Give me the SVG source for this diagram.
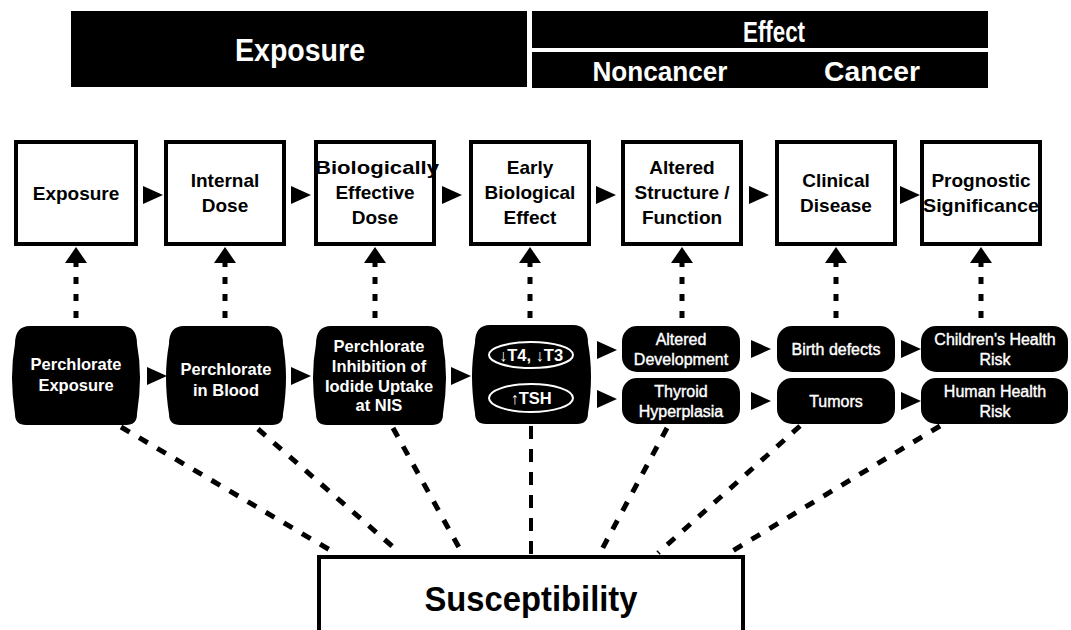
<svg xmlns="http://www.w3.org/2000/svg" xmlns:xlink="http://www.w3.org/1999/xlink" width="1071" height="630" viewBox="0 0 1071 630">
<style>
.ban{font-family:"Liberation Sans",Arial,sans-serif;font-weight:bold;fill:#fff;text-anchor:middle}
.box{fill:#fff;stroke:#000;stroke-width:4}
.bt{font-family:"Liberation Sans",Arial,sans-serif;font-weight:bold;font-size:19px;fill:#000;text-anchor:middle}
.blk{fill:#000}
.wt{font-family:"Liberation Sans",Arial,sans-serif;font-weight:bold;font-size:16.5px;fill:#fff;text-anchor:middle}
.st{font-family:"Liberation Sans",Arial,sans-serif;font-size:16px;fill:#fff;text-anchor:middle;stroke:#fff;stroke-width:0.4}
.dot{stroke:#000;stroke-width:5;stroke-dasharray:7 10;fill:none}
.dash{stroke:#000;stroke-width:5;stroke-dasharray:10 11;fill:none}
.vdash{stroke:#000;stroke-width:4;stroke-dasharray:13 10;fill:none}
.ell{fill:none;stroke:#fff;stroke-width:2}
</style>
<defs>
<polygon id="ar" points="0,-9 20,0 0,9" fill="#000"/>
<polygon id="au" points="-11,0 0,-16 11,0" fill="#000"/>
</defs>
<rect width="1071" height="630" fill="#fff"/>

<g id="banner">
<rect x="71" y="11" width="456" height="76" fill="#000"/>
<text class="ban" x="300" y="61" font-size="32" textLength="130" lengthAdjust="spacingAndGlyphs">Exposure</text>
<rect x="532" y="11" width="456" height="37" fill="#000"/>
<text class="ban" x="774" y="42" font-size="30" textLength="62" lengthAdjust="spacingAndGlyphs">Effect</text>
<rect x="532" y="52" width="456" height="36" fill="#000"/>
<text class="ban" x="660" y="81" font-size="28" textLength="135" lengthAdjust="spacingAndGlyphs">Noncancer</text>
<text class="ban" x="872" y="81" font-size="28" textLength="96" lengthAdjust="spacingAndGlyphs">Cancer</text>
</g>

<g id="n-exposure"><rect class="box" x="16" y="142" width="120" height="102"/><text class="bt" x="76" y="200">Exposure</text></g>
<g id="n-internal"><rect class="box" x="166" y="142" width="118" height="102"/><text class="bt" x="225" y="187">Internal</text><text class="bt" x="225" y="212">Dose</text></g>
<g id="n-bed"><rect class="box" x="316" y="142" width="118" height="102"/><text class="bt" x="377" y="174" textLength="124" lengthAdjust="spacingAndGlyphs">Biologically</text><text class="bt" x="375" y="199">Effective</text><text class="bt" x="375" y="224">Dose</text></g>
<g id="n-ebe"><rect class="box" x="471" y="142" width="118" height="102"/><text class="bt" x="530" y="174">Early</text><text class="bt" x="530" y="199">Biological</text><text class="bt" x="530" y="224">Effect</text></g>
<g id="n-asf"><rect class="box" x="623" y="142" width="118" height="102"/><text class="bt" x="682" y="174">Altered</text><text class="bt" x="682" y="199">Structure /</text><text class="bt" x="682" y="224">Function</text></g>
<g id="n-cd"><rect class="box" x="777" y="142" width="118" height="102"/><text class="bt" x="836" y="187">Clinical</text><text class="bt" x="836" y="212">Disease</text></g>
<g id="n-ps"><rect class="box" x="922" y="142" width="118" height="102"/><text class="bt" x="981" y="187">Prognostic</text><text class="bt" x="981" y="212" textLength="116" lengthAdjust="spacingAndGlyphs">Significance</text></g>

<g id="k-pe"><path class="blk" d="M30,326 H122 Q137,326 137,344 Q143,376 137,414 Q137,425 126,425 H26 Q15,425 15,414 Q9,376 15,344 Q15,326 30,326 Z"/><text class="wt" x="76" y="370">Perchlorate</text><text class="wt" x="76" y="391">Exposure</text></g>
<g id="k-pb"><path class="blk" d="M184,326 H268 Q283,326 283,344 Q289,376 283,414 Q283,425 272,425 H180 Q169,425 169,414 Q163,376 169,344 Q169,326 184,326 Z"/><text class="wt" x="226" y="375">Perchlorate</text><text class="wt" x="226" y="396">in Blood</text></g>
<g id="k-pi"><path class="blk" d="M331,326 H428 Q443,326 443,344 Q449,376 443,414 Q443,425 432,425 H327 Q316,425 316,414 Q310,376 316,344 Q316,326 331,326 Z"/><text class="wt" x="379" y="352">Perchlorate</text><text class="wt" x="379" y="372">Inhibition of</text><text class="wt" x="379" y="392">Iodide Uptake</text><text class="wt" x="379" y="411">at NIS</text></g>
<g id="k-t"><path class="blk" d="M490,325 H573 Q588,325 588,343 Q594,375 588,413 Q588,424 577,424 H486 Q475,424 475,413 Q469,375 475,343 Q475,325 490,325 Z"/>
<ellipse class="ell" cx="531" cy="355" rx="42" ry="13"/><text class="wt" x="531" y="361" font-size="17">↓T4, ↓T3</text>
<ellipse class="ell" cx="531" cy="398" rx="42" ry="14"/><text class="wt" x="531" y="404" font-size="17">↑TSH</text></g>
<g id="k-ad"><rect class="blk" x="622" y="326" width="118" height="46" rx="15"/><text class="st" x="681" y="345">Altered</text><text class="st" x="681" y="365">Development</text></g>
<g id="k-th"><rect class="blk" x="622" y="378" width="118" height="46" rx="15"/><text class="st" x="681" y="397">Thyroid</text><text class="st" x="681" y="417">Hyperplasia</text></g>
<g id="k-bd"><rect class="blk" x="777" y="326" width="118" height="46" rx="15"/><text class="st" x="836" y="355">Birth defects</text></g>
<g id="k-tu"><rect class="blk" x="777" y="378" width="118" height="46" rx="15"/><text class="st" x="836" y="407">Tumors</text></g>
<g id="k-ch"><rect class="blk" x="921" y="326" width="147" height="46" rx="15"/><text class="st" x="995" y="345">Children's Health</text><text class="st" x="995" y="365">Risk</text></g>
<g id="k-hh"><rect class="blk" x="921" y="378" width="147" height="46" rx="15"/><text class="st" x="995" y="397">Human Health</text><text class="st" x="995" y="417">Risk</text></g>

<g id="n-susc"><rect class="box" x="319" y="557" width="424" height="90"/><text x="531" y="611" font-family="Liberation Sans,Arial,sans-serif" font-weight="bold" font-size="35" text-anchor="middle" textLength="213" lengthAdjust="spacingAndGlyphs">Susceptibility</text></g>

<g id="connectors">
<use xlink:href="#ar" x="143" y="195"/>
<use xlink:href="#ar" x="291" y="195"/>
<use xlink:href="#ar" x="442" y="195"/>
<use xlink:href="#ar" x="596" y="195"/>
<use xlink:href="#ar" x="749" y="195"/>
<use xlink:href="#ar" x="900" y="195"/>

<use xlink:href="#ar" x="147" y="376"/>
<use xlink:href="#ar" x="291" y="376"/>
<use xlink:href="#ar" x="451" y="376"/>
<use xlink:href="#ar" x="597" y="350"/>
<use xlink:href="#ar" x="597" y="399"/>
<use xlink:href="#ar" x="751" y="349"/>
<use xlink:href="#ar" x="751" y="401"/>
<use xlink:href="#ar" x="901" y="349"/>
<use xlink:href="#ar" x="901" y="401"/>

<use xlink:href="#au" x="76" y="263"/>
<use xlink:href="#au" x="225" y="263"/>
<use xlink:href="#au" x="375" y="263"/>
<use xlink:href="#au" x="530" y="263"/>
<use xlink:href="#au" x="682" y="263"/>
<use xlink:href="#au" x="836" y="263"/>
<use xlink:href="#au" x="981" y="263"/>
<path class="dot" d="M76,318 V263 M225,318 V263 M375,318 V263 M530,318 V263 M682,318 V263 M836,318 V263 M981,318 V263"/>

<path class="dash" d="M121,427 L335,553"/>
<path class="dash" d="M258,429 L400,553"/>
<path class="dash" d="M393,428 L462,553"/>
<path class="vdash" d="M531,426 V555"/>
<path class="dash" d="M667,428 L600,553"/>
<path class="dash" d="M800,426 L658,553"/>
<path class="dash" d="M940,426 L729,553"/>
</g>
</svg>
